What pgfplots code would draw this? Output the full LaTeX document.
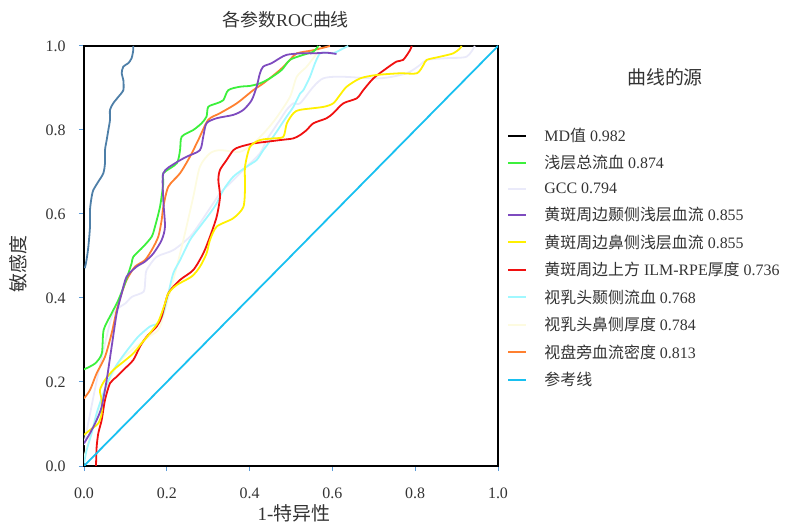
\documentclass[border=0pt]{standalone}
\usepackage{pgfplots}
\pgfplotsset{compat=1.18}
\usepackage{fontspec}
\setmainfont{Liberation Serif}
\newfontfamily\cjk{Noto Sans CJK SC}
\definecolor{mdblue}{HTML}{4E7FA8}
\definecolor{grn}{HTML}{3CF03C}
\definecolor{gcc}{HTML}{EAEAFA}
\definecolor{purp}{HTML}{7E4BBF}
\definecolor{yel}{HTML}{FFF000}
\definecolor{rd}{HTML}{F01010}
\definecolor{cyl}{HTML}{A0F8FF}
\definecolor{lyel}{HTML}{FDFBE0}
\definecolor{orng}{HTML}{FF8030}
\definecolor{refc}{HTML}{18C0F0}
\definecolor{tickblue}{HTML}{5A9BD8}
\definecolor{txt}{HTML}{333333}
\newcommand{\gap}{\hspace{4bp}}
\begin{document}
\begin{tikzpicture}
\useasboundingbox (0,0) rectangle (785bp,523bp);
\begin{axis}[
  at={(84bp,57bp)}, anchor=south west,
  width=414bp, height=420bp, scale only axis,
  xmin=0, xmax=1, ymin=0, ymax=1,
  xtick={0,0.2,0.4,0.6,0.8,1.0}, ytick={0,0.2,0.4,0.6,0.8,1.0},
  tick align=outside, tick pos=left, major tick length=5bp,
  tick style={color=tickblue, line width=1bp},
  axis line style={line width=1.6bp, black},
  /pgf/number format/.cd, fixed, fixed zerofill, precision=1, assume math mode=true,
  /pgfplots/.cd,
  ticklabel style={font=\fontsize{16}{18}\selectfont, color=txt},
  xticklabel style={yshift=-13bp},
  yticklabel style={xshift=-10bp},
  title={{\cjk 各参数}ROC{\cjk 曲线}},
  title style={at={(axis description cs:0.487,1.048)}, anchor=center, font=\fontsize{18}{20}\selectfont, color=txt},
  xlabel={1-{\cjk 特异性}},
  ylabel={\cjk 敏感度},
  every axis x label/.style={at={(axis description cs:0.507,-0.112)}, anchor=center, font=\fontsize{19}{20}\selectfont, color=txt},
  every axis y label/.style={at={(axis description cs:-0.159,0.481)}, anchor=center, rotate=90, font=\fontsize{19}{20}\selectfont, color=txt},
  legend style={at={(axis description cs:1.015,0.812)}, anchor=north west, draw=none, fill=none,
     font=\fontsize{16}{18}\selectfont, text=txt, row sep=10.5bp,
     nodes={inner sep=1bp}},
  legend cell align=left,
  legend image code/.code={\draw[#1, line width=2bp] (0bp,0bp) -- (18bp,0bp); \path[draw=none] (0bp,0bp) -- (35bp,0bp);},
  every axis plot/.append style={line width=1.8bp, smooth, tension=0.45},
]
\addlegendimage{black}\addlegendentry{MD{\cjk 值}\gap 0.982}
\addlegendimage{grn}\addlegendentry{{\cjk 浅层总流血}\gap 0.874}
\addlegendimage{gcc}\addlegendentry{GCC\gap 0.794}
\addlegendimage{purp}\addlegendentry{{\cjk 黄斑周边颞侧浅层血流}\gap 0.855}
\addlegendimage{yel}\addlegendentry{{\cjk 黄斑周边鼻侧浅层血流}\gap 0.855}
\addlegendimage{rd}\addlegendentry{{\cjk 黄斑周边上方}\gap ILM-RPE{\cjk 厚度}\gap 0.736}
\addlegendimage{cyl}\addlegendentry{{\cjk 视乳头颞侧流血}\gap 0.768}
\addlegendimage{lyel}\addlegendentry{{\cjk 视乳头鼻侧厚度}\gap 0.784}
\addlegendimage{orng}\addlegendentry{{\cjk 视盘旁血流密度}\gap 0.813}
\addlegendimage{refc}\addlegendentry{{\cjk 参考线}}

% MD
\addplot[mdblue, forget plot] coordinates {(0.002,0.471)(0.006,0.49)(0.0105,0.522)(0.0145,0.57)(0.0145,0.61)(0.0185,0.641)(0.0225,0.657)(0.0346,0.677)(0.0467,0.697)(0.0507,0.721)(0.0507,0.752)(0.0548,0.776)(0.0588,0.8)(0.0628,0.824)(0.0628,0.848)(0.0709,0.864)(0.083,0.879)(0.095,0.895)(0.095,0.919)(0.091,0.935)(0.095,0.951)(0.107,0.959)(0.115,0.971)(0.119,0.99)(0.119,1.0)};
% GCC
\addplot[gcc, forget plot] coordinates {(0,0.05)(0.03,0.2)(0.06,0.33)(0.0709,0.3635)(0.087,0.379)(0.0998,0.387)(0.116,0.403)(0.144,0.415)(0.148,0.443)(0.1514,0.4667)(0.1755,0.498)(0.2157,0.514)(0.256,0.546)(0.28,0.578)(0.296,0.6016)(0.3123,0.6255)(0.3285,0.649)(0.3607,0.681)(0.393,0.7127)(0.425,0.7445)(0.441,0.776)(0.457,0.8)(0.4734,0.824)(0.4895,0.848)(0.5056,0.8635)(0.522,0.8635)(0.554,0.903)(0.578,0.923)(0.618,0.927)(0.715,0.923)(0.779,0.935)(0.812,0.955)(0.828,0.967)(0.876,0.971)(0.924,0.9745)(0.944,1.0)};
% light yellow
\addplot[lyel, forget plot] coordinates {(0,0.02)(0.04,0.15)(0.08,0.24)(0.12,0.28)(0.16,0.31)(0.1836,0.332)(0.2157,0.443)(0.24,0.538)(0.264,0.641)(0.28,0.7127)(0.3043,0.7445)(0.3285,0.752)(0.3768,0.748)(0.409,0.768)(0.441,0.8)(0.4654,0.83)(0.4976,0.879)(0.514,0.927)(0.538,0.951)(0.562,0.9825)(0.57,1.0)};
% light cyan
\addplot[cyl, forget plot] coordinates {(0,0.006)(0.0064,0.038)(0.0185,0.078)(0.0306,0.1255)(0.0467,0.173)(0.0668,0.2207)(0.087,0.2524)(0.111,0.284)(0.131,0.308)(0.159,0.332)(0.1795,0.34)(0.1916,0.3635)(0.2037,0.411)(0.2157,0.459)(0.232,0.49)(0.256,0.538)(0.28,0.57)(0.3043,0.6016)(0.3205,0.6255)(0.3365,0.657)(0.3607,0.689)(0.393,0.7127)(0.417,0.7286)(0.433,0.752)(0.457,0.784)(0.4734,0.808)(0.4895,0.832)(0.5056,0.855)(0.522,0.887)(0.53,0.895)(0.546,0.927)(0.558,0.959)(0.57,0.9825)(0.586,0.984)(0.602,0.9825)(0.618,0.99)(0.638,1.0)};
% red
\addplot[rd, forget plot] coordinates {(0.029,0)(0.0306,0.046)(0.0346,0.078)(0.0427,0.1095)(0.0507,0.157)(0.0628,0.197)(0.079,0.2126)(0.095,0.2286)(0.119,0.2524)(0.135,0.284)(0.1514,0.308)(0.1755,0.332)(0.1876,0.3555)(0.2037,0.411)(0.232,0.443)(0.264,0.4667)(0.288,0.506)(0.3043,0.546)(0.3205,0.5936)(0.3285,0.641)(0.3245,0.681)(0.3285,0.705)(0.3446,0.7286)(0.3607,0.752)(0.3768,0.76)(0.409,0.768)(0.441,0.772)(0.4734,0.776)(0.5056,0.78)(0.522,0.788)(0.538,0.8)(0.554,0.816)(0.586,0.828)(0.602,0.84)(0.6264,0.8635)(0.659,0.8755)(0.6747,0.895)(0.699,0.923)(0.731,0.947)(0.755,0.963)(0.771,0.967)(0.7875,0.99)(0.7915,1.0)};
% yellow
\addplot[yel, forget plot] coordinates {(0,0.074)(0.0145,0.0857)(0.0346,0.1016)(0.0427,0.1255)(0.0427,0.157)(0.0386,0.181)(0.0507,0.205)(0.0709,0.2286)(0.095,0.248)(0.119,0.268)(0.139,0.292)(0.159,0.316)(0.1795,0.3436)(0.1956,0.387)(0.2037,0.411)(0.224,0.431)(0.26,0.451)(0.28,0.4745)(0.296,0.506)(0.3043,0.538)(0.3205,0.57)(0.3607,0.59)(0.385,0.617)(0.389,0.665)(0.389,0.7127)(0.401,0.76)(0.425,0.776)(0.457,0.78)(0.4815,0.784)(0.49,0.816)(0.506,0.84)(0.522,0.848)(0.578,0.855)(0.602,0.8635)(0.618,0.883)(0.6345,0.903)(0.667,0.923)(0.707,0.931)(0.763,0.935)(0.804,0.935)(0.82,0.955)(0.828,0.967)(0.86,0.9745)(0.892,0.9825)(0.908,0.994)(0.912,1.0)};
% orange
\addplot[orng, forget plot] coordinates {(0,0.161)(0.0145,0.181)(0.0306,0.2207)(0.0507,0.26)(0.0668,0.316)(0.079,0.371)(0.091,0.411)(0.103,0.443)(0.123,0.4745)(0.147,0.49)(0.1635,0.514)(0.1795,0.546)(0.1876,0.5857)(0.1916,0.617)(0.2037,0.665)(0.232,0.697)(0.256,0.7365)(0.276,0.776)(0.3,0.824)(0.3285,0.84)(0.369,0.8635)(0.409,0.895)(0.433,0.911)(0.4734,0.943)(0.4976,0.967)(0.514,0.9825)(0.554,0.99)(0.594,1.0)};
% green
\addplot[grn, forget plot] coordinates {(0,0.23)(0.0266,0.244)(0.043,0.268)(0.0475,0.324)(0.0668,0.3635)(0.0829,0.395)(0.099,0.435)(0.115,0.4825)(0.119,0.498)(0.143,0.522)(0.1635,0.546)(0.1715,0.57)(0.1836,0.6175)(0.1916,0.673)(0.1916,0.697)(0.224,0.7207)(0.232,0.752)(0.236,0.784)(0.264,0.8)(0.284,0.816)(0.296,0.832)(0.300,0.855)(0.3205,0.8635)(0.3365,0.871)(0.3486,0.895)(0.3768,0.903)(0.401,0.905)(0.425,0.911)(0.449,0.923)(0.4775,0.943)(0.4976,0.967)(0.53,0.979)(0.554,0.9865)(0.566,1.0)};
% purple
\addplot[purp, forget plot] coordinates {(0,0.054)(0.0145,0.078)(0.0306,0.1095)(0.0427,0.141)(0.0548,0.205)(0.0668,0.284)(0.079,0.3635)(0.091,0.411)(0.103,0.451)(0.127,0.4745)(0.147,0.4865)(0.1675,0.506)(0.1876,0.538)(0.1956,0.57)(0.1916,0.633)(0.1916,0.697)(0.2198,0.7207)(0.248,0.7365)(0.28,0.752)(0.288,0.784)(0.296,0.816)(0.3205,0.828)(0.3607,0.836)(0.385,0.848)(0.405,0.871)(0.417,0.903)(0.425,0.935)(0.433,0.951)(0.453,0.959)(0.473,0.971)(0.4895,0.979)(0.522,0.9825)(0.554,0.9825)(0.586,0.984)(0.61,0.981)};
% reference
\addplot[refc, forget plot, sharp plot] coordinates {(0,0)(1,1)};
\end{axis}
\node[font=\fontsize{19}{20}\selectfont, color=txt] at (665bp,446bp) {\cjk 曲线的源};
\end{tikzpicture}
\end{document}
